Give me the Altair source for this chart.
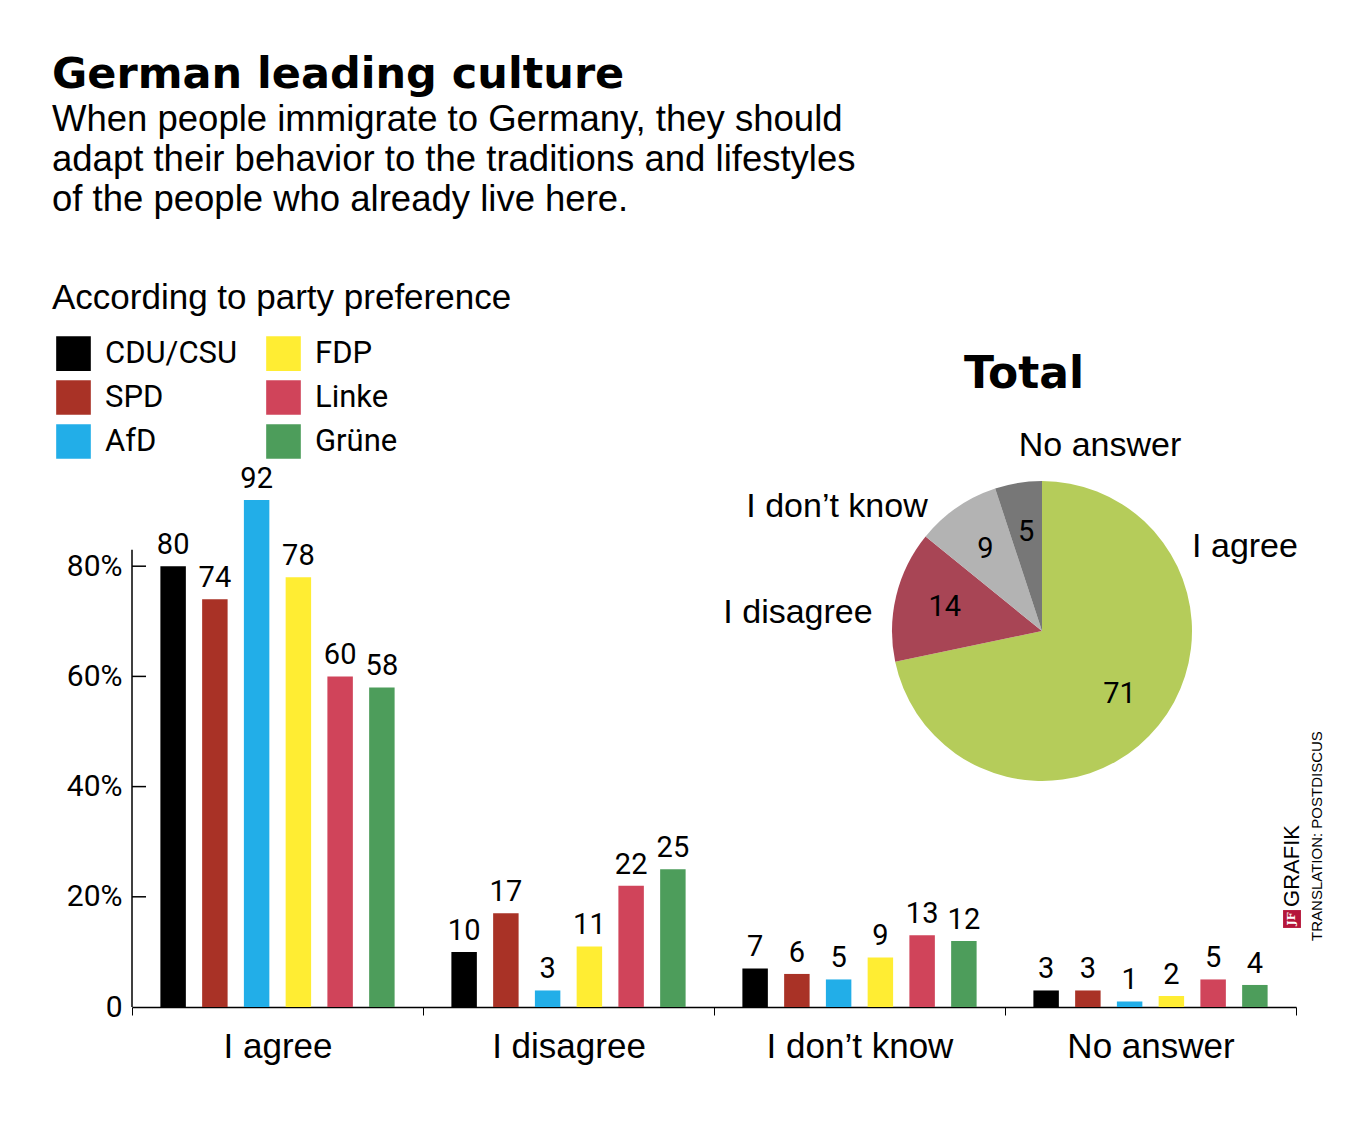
import altair as alt
import pandas as pd

answers = ["I agree", "I disagree", "I don\u2019t know", "No answer"]
parties = ["CDU/CSU", "SPD", "AfD", "FDP", "Linke", "Gr\u00fcne"]
party_colors = ["#000000", "#a93226", "#22aee8", "#ffed33", "#d0445a", "#4d9d5b"]
values = {
    "I agree": [80, 74, 92, 78, 60, 58],
    "I disagree": [10, 17, 3, 11, 22, 25],
    "I don\u2019t know": [7, 6, 5, 9, 13, 12],
    "No answer": [3, 3, 1, 2, 5, 4],
}
total_values = [71, 14, 9, 5]
total_colors = ["#b5cc5a", "#a84555", "#b3b3b3", "#777777"]
y_ticks = [0, 20, 40, 60, 80]

rows = [{"answer": a, "party": p, "value": v}
        for a in answers for p, v in zip(parties, values[a])]
bars_df = pd.DataFrame(rows)
pie_df = pd.DataFrame({"slice": answers, "total": total_values,
                       "order": range(4)})

W, H = 1164, 551
FONT = "Liberation Sans"
NARROW = "Roboto"
y_scale = alt.Scale(domain=[0, 100])

x_enc = alt.X("answer:N", sort=answers, title=None,
              scale=alt.Scale(paddingInner=0, paddingOuter=0),
              axis=alt.Axis(labelFontSize=35, labelFont=FONT, labelColor="#000",
                            labelAngle=0, labelLimit=400,
                            labelPadding=14, tickBand="extent", tickSize=8,
                            tickColor="#000", domainColor="#000", domainWidth=1.5))
y_enc = alt.Y("value:Q", title=None, scale=y_scale,
              axis=alt.Axis(values=y_ticks, ticks=False, grid=False, domain=False,
                            labelExpr="datum.value == 0 ? '0' : datum.value + '%'",
                            labelFontSize=30, labelFont=NARROW, labelColor="#000",
                            labelPadding=10))
off_enc = alt.XOffset("party:N", sort=parties,
                      scale=alt.Scale(paddingInner=0.39, paddingOuter=0.68))

base = alt.Chart(bars_df).encode(x=x_enc, xOffset=off_enc)
bars = base.mark_bar().encode(
    y=y_enc,
    color=alt.Color("party:N", scale=alt.Scale(domain=parties, range=party_colors),
                    legend=alt.Legend(orient="none", legendX=-76, legendY=-120,
                                      columns=2, title=None, symbolType="square",
                                      symbolSize=1200, symbolStrokeWidth=0,
                                      labelFontSize=31, labelFont=NARROW,
                                      labelColor="#000", rowPadding=9,
                                      columnPadding=28, labelOffset=14)))
bar_labels = base.mark_text(baseline="bottom", dy=-6, fontSize=29,
                            font=NARROW, color="#000").encode(
    y="value:Q", text="value:Q")

# y-axis line up to just above 80% and inward ticks
axis_top = [83]
y_line = alt.Chart(pd.DataFrame({"top": axis_top})).mark_rule(
    color="#000", strokeWidth=1.5).encode(
    y=alt.Y("top:Q", scale=y_scale), y2=alt.value(H), x=alt.value(0))
ticks = alt.Chart(pd.DataFrame({"v": y_ticks[1:]})).mark_rule(
    color="#000", strokeWidth=1.5).encode(
    y=alt.Y("v:Q", scale=y_scale),
    x=alt.value(0), x2=alt.value(14))

pie_x, pie_y, pie_r = 910, 175, 150
pie_base = alt.Chart(pie_df).encode(
    theta=alt.Theta("total:Q", stack=True),
    order=alt.Order("order:Q"),
    x=alt.value(pie_x), y=alt.value(pie_y))
pie = pie_base.mark_arc(radius=pie_r).encode(
    fill=alt.Fill("slice:N", scale=alt.Scale(domain=answers, range=total_colors),
                  legend=None))
pie_text = pie_base.mark_text(radius=100, fontSize=29, font=NARROW,
                              color="#000").encode(text="total:Q")

# free text: (text, x, y, size, weight, font, align, angle)
labels = [
    ("German leading culture", -80, -381, 43, "bold", "DejaVu Sans", "left", 0),
    ("When people immigrate to Germany, they should", -80, -336, 36.5, "normal", FONT, "left", 0),
    ("adapt their behavior to the traditions and lifestyles", -80, -296, 36.5, "normal", FONT, "left", 0),
    ("of the people who already live here.", -80, -256, 36.5, "normal", FONT, "left", 0),
    ("According to party preference", -80, -158, 35, "normal", FONT, "left", 0),
    ("Total", 892, -81, 44, "bold", "DejaVu Sans", "center", 0),
    ("No answer", 968, -10, 34, "normal", FONT, "center", 0),
    ("I don\u2019t know", 705, 51, 34, "normal", FONT, "center", 0),
    ("I disagree", 666, 157, 34, "normal", FONT, "center", 0),
    ("I agree", 1113, 91, 34, "normal", FONT, "center", 0),
    ("GRAFIK", 1160, 410, 22, "normal", FONT, "center", 270),
    ("TRANSLATION: POSTDISCUS", 1185, 380, 15, "normal", FONT, "center", 270),
]
text_layers = [
    alt.Chart(pd.DataFrame({"t": [t]})).mark_text(
        align=al, baseline="middle", fontSize=s, fontWeight=w, font=f,
        angle=ang, color="#000").encode(text="t:N", x=alt.value(x), y=alt.value(y))
    for t, x, y, s, w, f, al, ang in labels
]
logo_bg = alt.Chart(pd.DataFrame({"t": ["JF"]})).mark_square(
    size=320, color="#b5163a", opacity=1).encode(x=alt.value(1160), y=alt.value(463))
logo = alt.Chart(pd.DataFrame({"t": ["JF"]})).mark_text(
    fontSize=11, fontWeight="bold", angle=270, color="#fff", font="DejaVu Serif").encode(
    text="t:N", x=alt.value(1160), y=alt.value(463))

chart = alt.layer(bars, bar_labels, y_line, ticks, pie, pie_text, *text_layers,
                  logo_bg, logo).properties(
    width=W, height=H,
    autosize=alt.AutoSizeParams(type="none"),
    padding={"left": 124, "top": 448, "right": 40, "bottom": 100},
    background="#fff",
).configure_view(strokeWidth=0)

chart.save("out.html", embed_options={"renderer": "svg", "actions": False})
